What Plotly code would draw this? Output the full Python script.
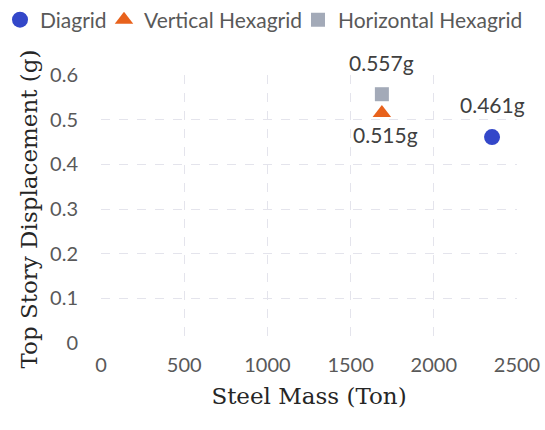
import plotly.graph_objects as go

series_names = ["Diagrid", "Vertical Hexagrid", "Horizontal Hexagrid"]
steel_mass = [2350, 1688, 1688]
displacement = [0.461, 0.515, 0.557]
labels = ["0.461g", "0.515g", "0.557g"]
colors = ["#3347c9", "#e8621c", "#a3aab8"]
symbols = ["circle", "triangle-up", "square"]
sizes = [16, 16, 14]
label_shift = [(0, 33), (4, -22), (0, 32)]

x_ticks = [0, 500, 1000, 1500, 2000, 2500]
y_ticks = [0, 0.1, 0.2, 0.3, 0.4, 0.5, 0.6]

legend_ids = ["legend", "legend2", "legend3"]
legend_left_px = [-6, 104, 298]

fig = go.Figure()
for name, x, y, c, s, sz, lg in zip(series_names, steel_mass, displacement, colors, symbols, sizes, legend_ids):
    fig.add_trace(go.Scatter(x=[x], y=[y], name=name, mode="markers", legend=lg,
                             marker=dict(color=c, symbol=s, size=sz, line=dict(width=0))))

for x, y, t, (dx, dy) in zip(steel_mass, displacement, labels, label_shift):
    fig.add_annotation(x=x, y=y, text=t, showarrow=False, xshift=dx, yshift=dy,
                       font=dict(family="Lato", size=21, color="#404040"))

W, H = 545, 430
legend_style = {}
for lg, px in zip(legend_ids, legend_left_px):
    legend_style[lg] = dict(orientation="h", xref="container", x=px / W, xanchor="left",
                            yref="container", y=1 - 20 / H, yanchor="middle",
                            font=dict(family="Lato", size=21, color="#595959"),
                            itemwidth=30, bgcolor="rgba(0,0,0,0)")

fig.update_layout(
    width=W, height=H,
    margin=dict(l=101, r=28, t=75, b=87, autoexpand=False),
    plot_bgcolor="white", paper_bgcolor="white",
    font=dict(family="Lato", size=20, color="#595959"),
    showlegend=True,
    **legend_style,
)
fig.update_xaxes(range=[0, 2500], tickvals=x_ticks, showgrid=True, gridcolor="#e4e4ec",
                 griddash="dash", gridwidth=1, zeroline=False, showline=False, automargin=False,
                 ticks="", ticklabelstandoff=8, tickfont=dict(family="Lato", size=20, color="#595959"),
                 title=dict(text="Steel Mass (Ton)", standoff=12,
                            font=dict(family="DejaVu Serif", size=23, color="#262626")))
fig.update_yaxes(range=[0, 0.6], tickvals=y_ticks, ticktext=["0", "0.1", "0.2", "0.3", "0.4", "0.5", "0.6"],
                 showgrid=True, gridcolor="#e4e4ec", automargin=False,
                 griddash="dash", gridwidth=1, zeroline=False, showline=False,
                 ticks="", ticklabelstandoff=22, tickfont=dict(family="Lato", size=20, color="#595959"),
                 title=dict(text="Top Story Displacement (g)", standoff=6,
                            font=dict(family="DejaVu Serif", size=23, color="#262626")))

fig.write_html("out.html", config={"displayModeBar": False},
               post_script="document.body.style.margin='0';document.body.style.overflow='hidden';")
